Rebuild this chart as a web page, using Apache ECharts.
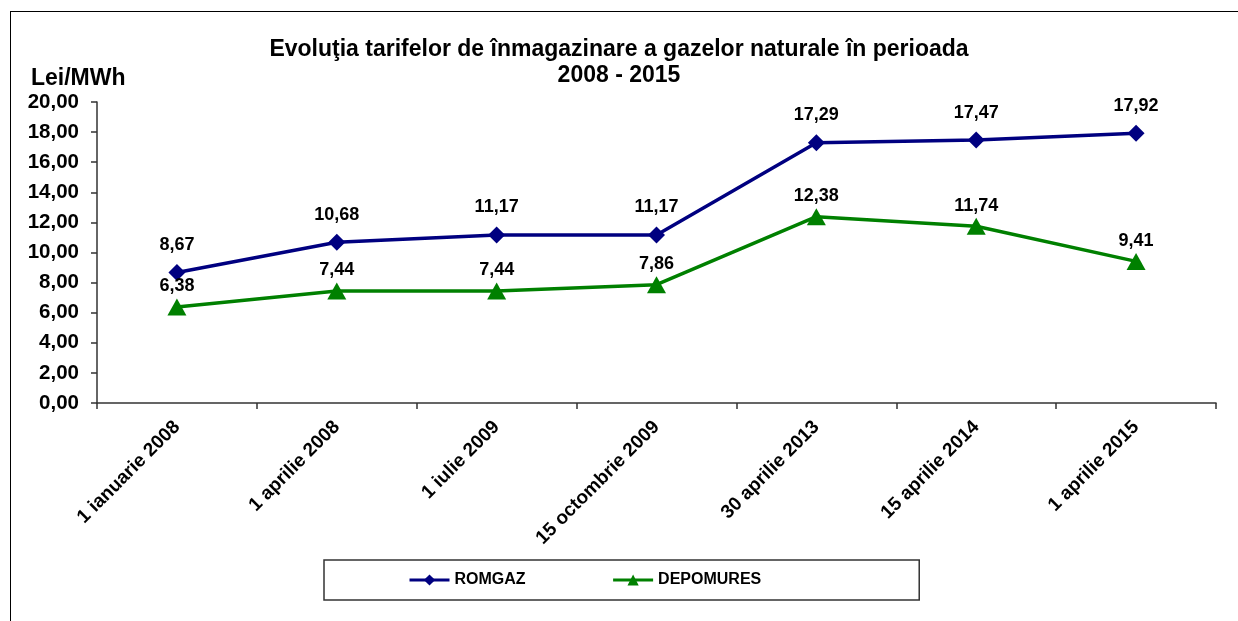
<!DOCTYPE html>
<html>
<head>
<meta charset="utf-8">
<script src="https://cdn.jsdelivr.net/npm/echarts@6/dist/echarts.min.js"></script>
<style>
  html, body { margin: 0; padding: 0; background: #fff; overflow: hidden; }
  #frame { position: absolute; left: 10px; top: 11px; width: 1240px; height: 620px; border: 1.5px solid #000; }
  #chart { position: absolute; left: 0; top: 0; width: 1238px; height: 621px; }
</style>
</head>
<body>
<div id="frame"></div>
<div id="chart"></div>
<script>
// perioade (axa x)
var categories = ['1 ianuarie 2008', '1 aprilie 2008', '1 iulie 2009', '15 octombrie 2009',
  '30 aprilie 2013', '15 aprilie 2014', '1 aprilie 2015'];
// tarife Lei/MWh
var romgaz = [8.67, 10.68, 11.17, 11.17, 17.29, 17.47, 17.92];
var depomures = [6.38, 7.44, 7.44, 7.86, 12.38, 11.74, 9.41];

var fontFam = 'Liberation Sans, Arial, sans-serif';

function fmt(v) {
  return v.toFixed(2).replace('.', ',');
}

var myChart = echarts.init(document.getElementById('chart'));

var option = {
  animation: false,
  textStyle: { fontFamily: fontFam },
  title: {
    text: 'Evoluţia tarifelor de înmagazinare a gazelor naturale în perioada\n2008 - 2015',
    left: 614,
    top: 32,
    textAlign: 'center',
    textStyle: { fontSize: 23, fontWeight: 'bold', color: '#000', lineHeight: 26, fontFamily: fontFam }
  },
  graphic: [{
    type: 'text',
    left: 31,
    top: 67,
    style: { text: 'Lei/MWh', fontSize: 23, fontWeight: 'bold', fill: '#000', fontFamily: fontFam }
  }],
  legend: {
    left: 324,
    top: 560,
    padding: [12, 158, 12, 84],
    borderColor: '#333',
    borderWidth: 1.5,
    itemWidth: 40,
    itemHeight: 14,
    itemGap: 86,
    lineStyle: { width: 3 },
    textStyle: { fontSize: 16, fontWeight: 'bold', color: '#000', fontFamily: fontFam },
    data: ['ROMGAZ', 'DEPOMURES']
  },
  grid: { left: 97, right: 22, top: 102, bottom: 218, containLabel: false },
  xAxis: {
    type: 'category',
    data: categories,
    boundaryGap: true,
    axisLine: { lineStyle: { color: '#333', width: 1.5 } },
    axisTick: { show: true, alignWithLabel: false, length: 6, lineStyle: { color: '#333', width: 1.5 } },
    axisLabel: {
      rotate: 45,
      margin: 21,
      fontSize: 19,
      fontWeight: 'bold',
      color: '#000',
      fontFamily: fontFam
    }
  },
  yAxis: {
    type: 'value',
    min: 0,
    max: 20,
    interval: 2,
    splitLine: { show: false },
    axisLine: { show: true, lineStyle: { color: '#333', width: 1.5 } },
    axisTick: { show: true, length: 6, lineStyle: { color: '#333', width: 1.5 } },
    axisLabel: {
      margin: 18,
      fontSize: 20.5,
      fontWeight: 'bold',
      color: '#000',
      fontFamily: fontFam,
      formatter: function (v) { return fmt(v); }
    }
  },
  series: [{
    name: 'ROMGAZ',
    type: 'line',
    data: romgaz,
    symbol: 'diamond',
    symbolSize: 17,
    color: '#000080',
    lineStyle: { width: 3.5, color: '#000080' },
    itemStyle: { color: '#000080' },
    label: {
      show: true,
      position: 'top',
      distance: 10,
      fontSize: 18,
      fontWeight: 'bold',
      color: '#000',
      fontFamily: fontFam,
      formatter: function (p) { return fmt(p.value); }
    }
  }, {
    name: 'DEPOMURES',
    type: 'line',
    data: depomures,
    symbol: 'triangle',
    symbolSize: [19, 17],
    color: '#008000',
    lineStyle: { width: 3.5, color: '#008000' },
    itemStyle: { color: '#008000' },
    label: {
      show: true,
      position: 'top',
      distance: 3,
      fontSize: 18,
      fontWeight: 'bold',
      color: '#000',
      fontFamily: fontFam,
      formatter: function (p) { return fmt(p.value); }
    }
  }]
};

myChart.setOption(option);
</script>
</body>
</html>
